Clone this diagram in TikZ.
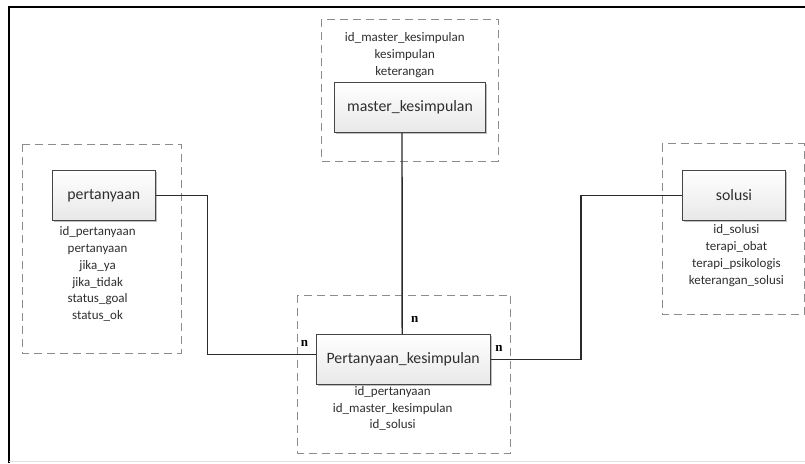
\documentclass[tikz,border=0pt]{standalone}
\usepackage{fontspec}
\setmainfont{Carlito}
\newfontfamily\cardfont{Liberation Serif}
\usetikzlibrary{shadows}

\definecolor{grpgray}{HTML}{8C8C8C}
\definecolor{boxline}{HTML}{454545}
\definecolor{linkgray}{HTML}{2A2A2A}
\definecolor{txtgray}{HTML}{2E2E2E}

\tikzset{
  entity/.style={draw=boxline, line width=0.9pt, top color=white, bottom color=black!9,
    minimum width=#1, minimum height=50pt, inner sep=0pt, text=txtgray,
    font=\fontsize{15.8}{18}\selectfont,
    drop shadow={shadow xshift=1.6pt, shadow yshift=-1.6pt, opacity=0.25, fill=black}},
  attr/.style={align=center, inner sep=0pt, anchor=north, text=txtgray,
    font=\fontsize{13}{16.8}\selectfont},
  grp/.style={draw=grpgray, line width=0.8pt, dash pattern=on 8pt off 5pt},
  link/.style={draw=linkgray, line width=1.4pt},
  card/.style={font=\cardfont\fontsize{13}{13}\selectfont\bfseries, inner sep=0pt}
}

\begin{document}
\begin{tikzpicture}[x=1pt,y=-1pt]
\useasboundingbox (0,0) rectangle (805,463);
% frame
\draw[line width=2pt] (805,7) -- (9,7) -- (9,463);
\draw[black!12, line width=1pt] (9,461.5) -- (805,461.5);

% groups
\draw[grp] (321,19) rectangle (498,161);
\draw[grp] (22,144) rectangle (181,353);
\draw[grp] (662,143.5) rectangle (804,314);
\draw[grp] (297.5,295) rectangle (510.5,453);

% tables
\node[entity=151.7pt] (mk) at (410,107.7) {master\_kesimpulan};
\node[entity=103.5pt] (prt) at (103.8,195.3) {pertanyaan};
\node[entity=103.7pt] (sol) at (734,195.3) {solusi};
\node[entity=174pt] (pk) at (403.2,359.5) {Pertanyaan\_kesimpulan};

% fields
\node[attr] (mk-f) at (404.8,32.5) {id\_master\_kesimpulan\\kesimpulan\\keterangan};
\node[attr] (prt-f) at (97.6,226.5) {id\_pertanyaan\\pertanyaan\\jika\_ya\\jika\_tidak\\status\_goal\\status\_ok};
\node[attr] (sol-f) at (736.4,224.5) {id\_solusi\\terapi\_obat\\terapi\_psikologis\\keterangan\_solusi};
\node[attr] (pk-f) at (392.7,386) {id\_pertanyaan\\id\_master\_kesimpulan\\id\_solusi};

% relations
\coordinate (c1) at (207.5,354.3);
\coordinate (c2) at (581,0);
\draw[link] (prt.east) -| (c1) -- (c1 -| pk.west);
\draw[link] ([xshift=-8pt]mk.south) -- ([xshift=-1pt]pk.north);
\draw[link] (pk.east) -| (c2 |- sol.west) -- (sol.west);

\node[card] (n1) at (414.8,319) {n};
\node[card] (n2) at (304.4,343.3) {n};
\node[card] (n3) at (499,348.3) {n};
\end{tikzpicture}
\end{document}
